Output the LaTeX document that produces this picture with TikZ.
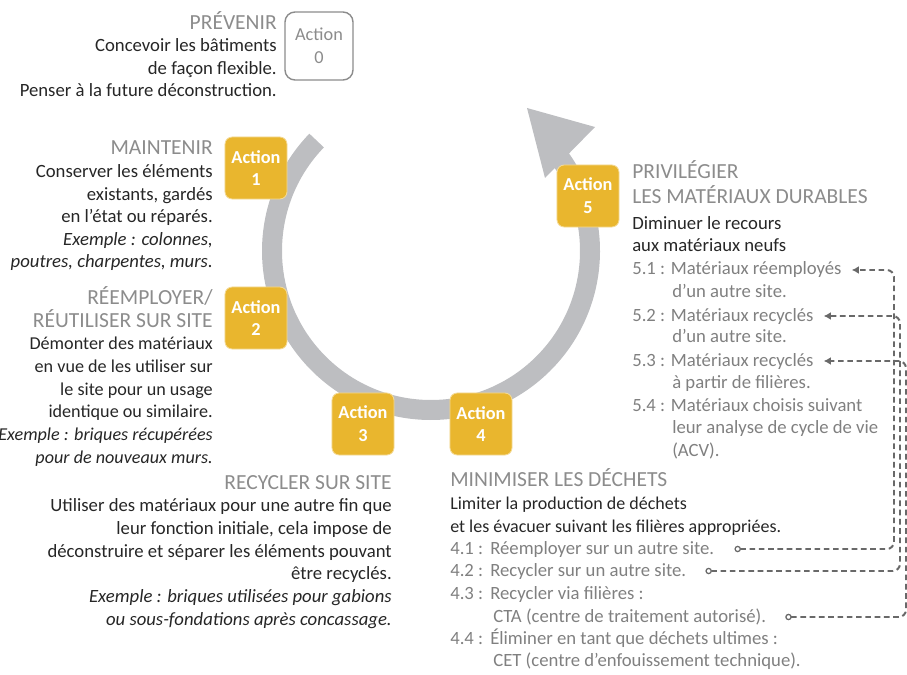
\documentclass[tikz,border=0pt]{standalone}
\usepackage{fontspec}
\setmainfont{Carlito}
\usepackage{tikz}
\usetikzlibrary{calc,arrows.meta,positioning}
\definecolor{ringgray}{RGB}{189,190,193}
\definecolor{actgold}{RGB}{233,182,46}
\definecolor{headgray}{RGB}{140,140,140}
\definecolor{bodyblack}{RGB}{38,38,38}
\definecolor{subgray}{RGB}{128,128,128}
\definecolor{linkgray}{RGB}{105,105,105}
\newcommand{\blocktitle}[1]{{\fontsize{15.3}{16}\selectfont\color{headgray}#1}}
\newcommand{\itemlabel}[1]{\makebox[1cm][l]{#1}}

\begin{document}
\begin{tikzpicture}[x=0.025cm,y=-0.025cm,
  txt/.style={inner sep=0pt, text=bodyblack, font=\fontsize{13.3}{16.1}\selectfont},
  sub/.style={txt, text=subgray, anchor=base west},
  actbox/.style={fill=actgold, draw=actgold!50!white, line width=0.6pt, rounded corners=0.18cm, minimum width=1.55cm, minimum height=1.55cm, inner sep=0pt, align=center, text=white, font=\fontsize{13}{16.2}\selectfont\bfseries},
  link/.style={draw=linkgray, line width=1.4pt, dash pattern=on 4pt off 2.6pt, rounded corners=0.18cm, {Circle[open,length=4.6pt,width=4.6pt,line width=0.9pt]}-{Latex[length=5pt,width=5.5pt]}}]
\useasboundingbox (0,0) rectangle (907,675);
\draw[ringgray, line width=0.5cm] (431,251) ++(-136:159) arc[start angle=-136, end angle=-396, radius=159];
\fill[ringgray] (527,108) -- (545,178) -- (595,127) -- cycle;

\node[actbox, fill=white, draw=headgray, line width=1pt, minimum width=1.7cm, minimum height=1.7cm, rounded corners=0.25cm, text=headgray, font=\fontsize{13}{16.2}\selectfont] (act0) at (319,46) {Action\\0};
\node[actbox] (act1) at (256,168) {Action\\1};
\node[actbox] (act2) at (256,318) {Action\\2};
\node[actbox] (act3) at (363,424) {Action\\3};
\node[actbox] (act4) at (481,424) {Action\\4};
\node[actbox] (act5) at (588,196) {Action\\5};

% blocks are anchored on the baseline of their last line
\node[txt, anchor=base east, align=right] (prevenir) at (277,97) {\blocktitle{PRÉVENIR}\\Concevoir les bâtiments\\de façon flexible.\\Penser à la future déconstruction.};
\node[txt, anchor=base east, align=right] (maintenir) at (213,268) {\blocktitle{MAINTENIR}\\Conserver les éléments\\existants, gardés\\en l'état ou réparés.\\\textit{Exemple : colonnes,}\\\textit{poutres, charpentes, murs.}};
\node[txt, anchor=base east, align=right, font=\fontsize{12.9}{16.1}\selectfont] (reemployer) at (213,463) {\blocktitle{RÉEMPLOYER/}\\\blocktitle{RÉUTILISER SUR SITE}\\Démonter des matériaux\\en vue de les utiliser sur\\le site pour un usage\\identique ou similaire.\\\textit{Exemple : briques récupérées}\\\textit{pour de nouveaux murs.}};
\node[txt, anchor=base east, align=right] (recycler) at (392,625) {\blocktitle{RECYCLER SUR SITE}\\Utiliser des matériaux pour une autre fin que\\leur fonction initiale, cela impose de\\déconstruire et séparer les éléments pouvant\\être recyclés.\\\textit{Exemple : briques utilisées pour gabions}\\\textit{ou sous-fondations après concassage.}};
\node[txt, anchor=base west, align=left] (privilegier) at (632,252) {\blocktitle{PRIVILÉGIER}\\[2pt]\blocktitle{LES MATÉRIAUX DURABLES}\\[2pt]Diminuer le recours\\aux matériaux neufs};
\node[txt, anchor=base west, align=left, font=\fontsize{12.8}{16.1}\selectfont] (minimiser) at (450,532) {\blocktitle{MINIMISER LES DÉCHETS}\\Limiter la production de déchets\\et les évacuer suivant les filières appropriées.};

\node[sub] (i51) at (632,275) {5.1 : Matériaux réemployés};
\node[sub] (i51b) at (672,298) {d’un autre site.};
\node[sub] (i52) at (632,321) {5.2 : Matériaux recyclés};
\node[sub] (i52b) at (672,343) {d’un autre site.};
\node[sub] (i53) at (632,366) {5.3 : Matériaux recyclés};
\node[sub] (i53b) at (672,388) {à partir de filières.};
\node[sub] (i54) at (632,411) {5.4 : Matériaux choisis suivant};
\node[sub, align=left] (i54b) at (672,456) {leur analyse de cycle de vie\\(ACV).};

\node[sub] (i41) at (450,554) {\itemlabel{4.1 :}Réemployer sur un autre site.};
\node[sub] (i42) at (450,576) {\itemlabel{4.2 :}Recycler sur un autre site.};
\node[sub] (i43) at (450,599) {\itemlabel{4.3 :}Recycler via filières :};
\node[sub] (i43b) at (493,622) {CTA (centre de traitement autorisé).};
\node[sub] (i44) at (450,644) {\itemlabel{4.4 :}Éliminer en tant que déchets ultimes :};
\node[sub] (i44b) at (493,666) {CET (centre d’enfouissement technique).};

\coordinate (t51) at ($(i51.base east)+(10,-5)$);
\coordinate (t52) at ($(i52.base east)+(10,-5)$);
\coordinate (t53) at ($(i53.base east)+(10,-5)$);
\coordinate (c41) at ($(i41.base east)+(20,-5)$);
\coordinate (c42) at ($(i42.base east)+(19,-5)$);
\coordinate (c43) at ($(i43b.base east)+(19,-5)$);
\coordinate (v41) at (894,0);
\coordinate (v42) at (900,0);
\coordinate (v43) at (906,0);
\draw[link] (c41) -- (c41 -| v41) -- (v41 |- t51) -- (t51);
\draw[link] (c42) -- (c42 -| v42) -- (v42 |- t52) -- (t52);
\draw[link] (c43) -- (c43 -| v43) -- (v43 |- t53) -- (t53);
\end{tikzpicture}
\end{document}
